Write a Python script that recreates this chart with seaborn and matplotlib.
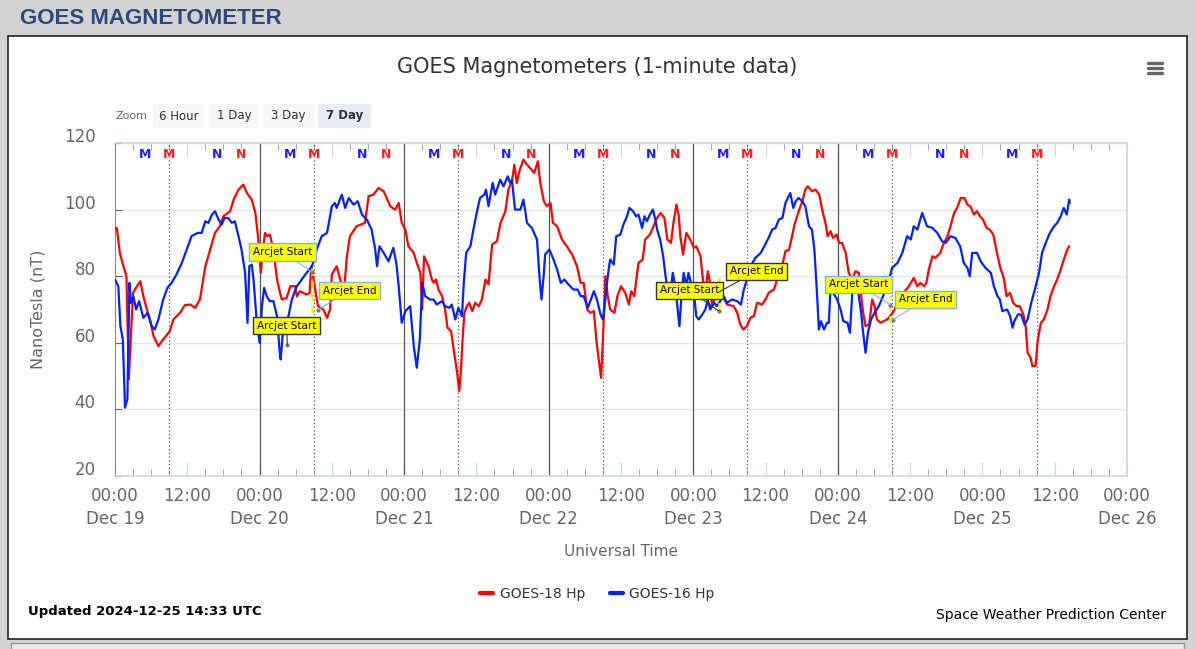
import pandas as pd
import matplotlib
matplotlib.use("Agg")
import matplotlib.pyplot as plt
import matplotlib.dates as mdates
import matplotlib.patches as patches
import matplotlib.transforms as mtransforms
import seaborn as sns

start = pd.Timestamp("2024-12-19 00:00")

# hours since Dec 19 00:00 UT and field values (nT)
goes18_hours = [0, 0.3, 0.8, 1.4, 1.9, 2.3, 2.6, 3.0, 3.3, 4.2, 4.7, 5.3, 5.8, 6.4, 7.2, 8.0, 9.1, 9.7,
                10.8, 11.6, 12.5, 13.3, 14.1, 15.0, 15.8, 16.6, 17.4, 18.0, 19.1, 19.7, 20.5, 21.3,
                21.9, 22.7, 23.3, 23.8, 24.2, 24.5, 24.9, 25.3, 25.7, 26.3, 26.9, 27.4, 27.7, 28.5,
                29.1, 29.9, 30.2, 30.7, 31.8, 32.3, 32.6, 33.7, 34.6, 35.2, 35.7, 36.0, 36.8, 37.4,
                38.0, 38.5, 39.0, 40.1, 41.5, 42.1, 42.9, 43.75, 44.6, 45.1, 45.7, 46.5, 47.1, 47.6,
                48.2, 48.7, 49.6, 50.1, 50.7, 51.0, 51.3, 52.05, 52.6, 52.9, 53.3, 53.7, 54.3, 54.8,
                55.2, 55.8, 56.3, 56.8, 57.15, 57.4, 57.7, 58.0, 58.4, 58.8, 59.3, 59.8, 60.4, 60.9,
                61.5, 62.0, 62.6, 63.4, 64.0, 64.8, 65.3, 65.9, 66.3, 66.7, 67.2, 67.8, 68.4, 68.9,
                69.6, 70.2, 70.6, 71.2, 71.7, 72.3, 72.7, 73.4, 74.2, 75.0, 75.9, 76.7, 77.3, 77.8,
                78.4, 78.9, 79.5, 79.9, 80.3, 80.7, 81.0, 81.4, 81.8, 82.2, 82.9, 83.4, 84.0, 84.7,
                85.3, 85.7, 86.2, 86.9, 87.6, 88.0, 88.8, 89.4, 90.0, 90.6, 91.2, 91.7, 92.3, 92.7,
                93.2, 93.6, 93.85, 94.3, 94.85, 95.5, 96.1, 96.5, 97.2, 97.6, 98.0, 98.4, 98.8, 99.1,
                99.5, 101.05, 101.6, 102.7, 103.3, 103.8, 104.3, 104.9, 105.5, 106.05, 106.6, 107.4,
                108.0, 108.5, 109.4, 109.9, 110.8, 111.3, 111.9, 112.4, 112.8, 113.5, 114.1, 114.6,
                115.0, 115.7, 116.3, 116.9, 117.4, 118.0, 118.3, 118.8, 119.2, 119.8, 120.2, 120.7,
                121.3, 121.8, 122.4, 122.9, 123.5, 123.8, 124.2, 124.6, 125.2, 125.7, 126.1, 126.5,
                127.1, 127.6, 128.2, 129.3, 130.1, 130.9, 131.8, 132.6, 133.2, 133.7, 134.3, 134.7,
                135.1, 135.7, 136.2, 137.0, 137.6, 138.2, 138.7, 139.3, 139.8, 140.4, 141.0, 141.5,
                142.0, 142.6, 143.1, 143.6, 144.1, 144.7, 145.2, 145.8, 146.3, 146.9, 147.6, 148.0,
                148.6, 149.1, 149.7, 150.2, 150.8, 151.2, 151.5, 152.0, 152.3, 152.8, 153.2, 153.7,
                154.2, 154.8, 155.3, 155.9, 156.4, 157.0, 157.5, 158.1, 158.4]
goes18_nt = [94, 94.5, 87, 83, 80, 49, 61, 75, 76, 78.5, 74, 70, 67, 62, 59, 61, 63.5, 67,
             69, 71.3, 71.5, 70.5, 73, 83, 88, 93, 95, 98, 99.5, 103, 106, 107.5,
             105, 103, 99, 91, 81, 87, 93, 92, 92.5, 88, 79, 75, 73, 73.5,
             77, 77, 74, 75.5, 74.5, 75, 83, 71, 70, 67.5, 70, 80.5, 83, 79,
             75, 86, 92, 95, 96, 104, 104.5, 106.5, 105.5, 103.5, 101, 100, 102, 96,
             94, 89, 87, 84, 81, 70, 86, 83, 79, 78, 79, 76, 74, 70,
             64.5, 63.5, 57, 51, 45.5, 51, 61, 69, 71, 72, 69.5, 72, 71, 73,
             79, 77.5, 89.5, 90.5, 96, 99.5, 106, 108.5, 113.5, 108, 112, 115, 113.5, 112.5,
             111, 114.5, 108, 102.5, 101, 102, 96, 95, 91, 89, 86.5, 83, 78, 78,
             70, 69, 69.5, 61, 55, 49.5, 61, 80, 74, 70, 69, 74, 77, 75,
             71.5, 75.5, 74, 84, 85, 91, 92.5, 95, 97.5, 99, 97.5, 91, 90, 96,
             101.5, 98, 92, 86.5, 93, 91, 88.5, 89, 86, 79, 74, 81.5, 78, 71,
             73, 73.5, 71.5, 71, 69, 65.5, 64, 65, 67.5, 68, 72, 71.5,
             73, 75, 76, 79, 83.5, 87.5, 88, 92, 95.5, 99.5, 102.5, 106,
             107, 105.5, 106, 104.5, 100, 95.5, 92, 93.5, 91.5, 92.5, 90, 90,
             87, 81, 79, 81.5, 81, 75, 69, 65, 65.5, 73, 71, 67,
             66, 66.5, 67, 69.5, 73, 75, 77, 79.5, 77, 78, 77, 78,
             82, 86, 85.5, 87, 90, 92, 95, 99, 100.5, 103.5, 103.5, 101.5,
             101, 98.5, 99.5, 98, 97, 94.5, 94, 92.5, 88, 83, 79, 74,
             75, 72, 71, 71, 68.5, 64.5, 57, 55.5, 53, 53, 61, 66,
             67, 70, 74, 77, 79, 82, 85, 88, 89]

goes16_hours = [0, 0.55, 0.9, 1.3, 1.66, 2.05, 2.4, 2.65, 3.05, 3.5, 4.0, 4.7, 5.4, 6.1, 6.6, 7.2, 8.0,
                8.7, 9.4, 10.2, 11.1, 11.9, 12.7, 13.7, 14.4, 15.0, 15.5, 16.1, 16.6, 17.2, 17.7,
                18.2, 18.8, 19.4, 19.9, 20.5, 21.0, 21.6, 22.0, 22.3, 22.7, 23.0, 23.5, 24.0, 24.4,
                24.75, 25.2, 25.7, 26.3, 26.9, 27.3, 27.5, 27.96, 28.8, 29.35, 30.2, 31.0, 31.8,
                32.7, 33.5, 34.3, 35.2, 36.0, 36.5, 36.8, 37.65, 38.2, 38.8, 39.6, 40.3, 41.0, 41.8,
                42.6, 43.2, 43.5, 43.9, 44.6, 45.4, 46.2, 46.7, 47.1, 47.6, 48.2, 49.0, 49.6, 50.1,
                50.6, 51.0, 51.5, 52.3, 52.9, 53.4, 54.3, 54.8, 55.5, 55.9, 56.5, 57.0, 57.6, 57.9,
                58.3, 59.0, 59.5, 60.1, 60.6, 61.3, 61.6, 62.0, 62.7, 63.1, 63.95, 64.5, 65.2, 65.6,
                65.9, 66.4, 67.3, 67.8, 68.4, 69.2, 70.05, 70.5, 70.8, 71.2, 71.4, 72.1, 72.8, 73.4,
                74.0, 74.6, 75.3, 76.1, 76.8, 77.3, 77.8, 78.5, 79.5, 80.0, 80.6, 81.0, 81.4, 81.8,
                82.2, 82.8, 83.2, 83.9, 84.4, 85.0, 85.4, 86.0, 86.5, 86.9, 87.5, 87.9, 88.3, 88.8,
                89.3, 89.7, 90.0, 90.5, 91.0, 91.4, 91.75, 92.2, 92.6, 93.0, 93.4, 93.7, 94.0, 94.4,
                94.85, 95.2, 95.6, 96.1, 96.5, 96.9, 97.5, 98.0, 98.4, 98.8, 99.5, 99.9, 101.05,
                101.6, 102.4, 103.3, 103.9, 104.4, 104.9, 105.5, 106.3, 107.2, 107.8, 108.5, 109.1,
                109.65, 110.2, 110.8, 111.3, 111.7, 112.1, 112.6, 113.0, 113.5, 114.1, 114.6, 115.2,
                115.7, 116.1, 116.5, 116.85, 117.2, 117.7, 118.2, 118.5, 118.8, 119.2, 119.9, 120.45,
                120.9, 121.6, 122.0, 122.4, 122.9, 123.3, 123.8, 124.2, 124.6, 125.0, 125.5, 126.1,
                126.8, 127.5, 128.2, 129.0, 129.9, 130.7, 131.5, 132.1, 132.6, 133.2, 134.0, 134.8,
                135.7, 136.5, 137.3, 137.9, 138.7, 139.5, 140.3, 140.9, 141.5, 141.9, 142.3, 143.1,
                143.7, 144.5, 145.4, 145.9, 146.5, 146.9, 147.3, 148.1, 148.6, 149.0, 149.3, 149.9,
                150.4, 151.0, 151.5, 152.1, 152.7, 153.4, 153.9, 154.5, 155.2, 155.9, 156.4, 157.0,
                157.5, 158.0, 158.4, 158.5]
goes16_nt = [79, 77, 65, 61, 40.5, 43, 78, 72, 74, 70, 72.5, 67.5, 69, 65, 64, 67, 73,
             76.5, 78, 80.5, 84, 88, 92, 93, 93, 96.5, 96, 98.5, 99.5, 97, 95.5,
             97.5, 97.5, 96, 96.5, 92, 88, 81, 66, 83, 83.5, 79, 67, 60, 71,
             76.5, 74, 72.5, 72.5, 68, 58, 55, 65, 68, 73, 77, 79, 81,
             83, 88, 92, 93, 101, 102, 100.5, 104.5, 100.5, 103.5, 101.5, 102.5, 98.5, 97,
             94, 88, 83, 89, 87, 84.5, 88.5, 84, 77, 66, 69.5, 71, 59, 52.5,
             61, 78, 74, 73, 73, 71.5, 72.5, 71, 70.5, 71.5, 67, 70.5, 68, 78,
             87, 89, 94, 99.5, 103.5, 104.5, 106, 101, 108, 104.5, 109, 107, 110, 108,
             109, 100, 100, 103, 96, 94.5, 91, 79, 73, 81, 86.5, 88, 85, 82,
             78, 79, 77.5, 76, 76, 74, 74, 70.5, 75.5, 73, 68.5, 67, 73, 80,
             85, 83.5, 92, 92.5, 95.5, 98, 100.5, 99.5, 98, 98.5, 94.5, 98, 96.5, 98.5,
             100, 97, 94, 91, 86, 80, 76, 75, 81, 77, 70, 65, 73, 81,
             77, 81, 78, 75, 68, 67, 68.5, 70, 73, 70, 72, 71, 74,
             72, 73, 72.5, 71.5, 76, 79, 83, 85.5, 87, 89, 91.5, 94,
             94.5, 97, 97.5, 102, 103.5, 105, 100.5, 102.5, 103.5, 102.5, 101, 95,
             94, 88, 76, 64, 66.5, 64, 66, 66, 77, 75, 73, 70,
             66.5, 66, 63, 75, 79, 76, 70, 63, 57, 63, 67, 69,
             71, 74, 77, 82.5, 84, 87, 92, 91, 95, 94, 99, 95,
             94.5, 93, 90.5, 90, 92, 91.5, 89, 84, 82.5, 80, 87, 87,
             84.5, 82.5, 81, 77, 74, 73, 69.5, 70, 68, 64.5, 66.5, 68.5,
             68.5, 65.5, 67, 72, 76, 81, 87, 90, 93, 95, 96, 98,
             100.5, 98.5, 103, 102]

# arcjet intervals (yellow dashed)
arcjet_hours = [32.7, 100.2, 128.6]
arcjet_top = [84, 81, 74.5]
arcjet_bottom = [69, 70, 66]

# annotation flags
ann_text = ["Arcjet Start", "Arcjet End", "Arcjet Start", "Arcjet Start", "Arcjet End",
            "Arcjet Start", "Arcjet End"]
ann_hours = [32.7, 33.7, 28.6, 100.2, 100.3, 128.7, 129.1]
ann_nt = [81.3, 70, 59.4, 69.6, 75.3, 71.4, 66.9]
ann_box_hours = [27.8, 38.95, 28.5, 95.4, 106.5, 123.4, 134.55]
ann_box_nt = [87.3, 75.6, 65.1, 75.75, 81.45, 77.55, 73.05]
ann_edge = ["#7cb5ec", "#7cb5ec", "#333333", "#333333", "#333333", "#7cb5ec", "#7cb5ec"]

# magnetopause / noon markers (hour of day)
marker_hours = [5, 9, 17, 21]
marker_text = ["M", "M", "N", "N"]
marker_color = ["#1f1fff", "#ff1f1f", "#1f1fff", "#ff1f1f"]

days = pd.date_range("2024-12-19", "2024-12-25", freq="D")


df = pd.concat([
    pd.DataFrame({"time": start + pd.to_timedelta(goes18_hours, unit="h"),
                  "nT": goes18_nt, "series": "GOES-18 Hp"}),
    pd.DataFrame({"time": start + pd.to_timedelta(goes16_hours, unit="h"),
                  "nT": goes16_nt, "series": "GOES-16 Hp"}),
])

sns.set_style("white")
plt.rcParams["font.family"] = ["DejaVu Sans"]

fig = plt.figure(figsize=(11.95, 6.49), dpi=100, facecolor="#d3d3d3")

# white panel and bottom panel
fig.patches.append(patches.Rectangle((8 / 1195, 1 - 639 / 649), 1179 / 1195, 603 / 649,
                                     transform=fig.transFigure, facecolor="white",
                                     edgecolor="#222222", linewidth=1.2, zorder=-5))
fig.patches.append(patches.Rectangle((11 / 1195, 1 - 660 / 649), 1173 / 1195, 17 / 649,
                                     transform=fig.transFigure, facecolor="#ececec",
                                     edgecolor="#999999", linewidth=1, zorder=-5))

ax = fig.add_axes([115 / 1195, 1 - 476 / 649, 1012 / 1195, 333 / 649])
ax.set_facecolor("white")

sns.lineplot(data=df, x="time", y="nT", hue="series",
             palette={"GOES-18 Hp": "#ff0000", "GOES-16 Hp": "#0022ff"},
             hue_order=["GOES-18 Hp", "GOES-16 Hp"], linewidth=1.6, ax=ax, zorder=3)

ax.set_xlim(pd.Timestamp("2024-12-19"), pd.Timestamp("2024-12-26"))
ax.set_ylim(20, 120)
ax.set_yticks([20, 40, 60, 80, 100, 120])
ax.grid(axis="y", color="#e6e6e6", linewidth=1)
ax.grid(axis="x", visible=False)

for d in days:
    if d != days[0] and d != days[-1]:
        ax.axvline(d, color="#555555", linewidth=0.9, zorder=1)
    ax.axvline(d + pd.Timedelta(hours=9), color="#555555", linewidth=0.9,
               linestyle=(0, (1, 2)), zorder=1)

trans = mtransforms.blended_transform_factory(ax.transData, ax.transAxes)
for d in days:
    for h, t, c in zip(marker_hours, marker_text, marker_color):
        if d == days[-1] and t == "N":
            continue
        ax.text(d + pd.Timedelta(hours=h), 0.964, t, transform=trans, ha="center", va="center",
                color=c, fontsize=9, fontweight="bold", zorder=4)

for h, top, bot in zip(arcjet_hours, arcjet_top, arcjet_bottom):
    ax.vlines(start + pd.Timedelta(hours=h), bot, top, colors="#f5f000", linewidth=1.8,
              linestyles=(0, (3, 2)), zorder=5)

for t, h, v, bh, bv, ec in zip(ann_text, ann_hours, ann_nt, ann_box_hours, ann_box_nt, ann_edge):
    ax.plot(start + pd.Timedelta(hours=h), v, "o", color="#777777", markersize=2, zorder=6)
    ax.annotate(t, xy=(start + pd.Timedelta(hours=h), v),
                xytext=(start + pd.Timedelta(hours=bh), bv),
                ha="center", va="center", fontsize=7.5, color="black", zorder=7,
                bbox=dict(boxstyle="square,pad=0.35", facecolor="#ffff00", edgecolor=ec, linewidth=1),
                arrowprops=dict(arrowstyle="-", color=ec, linewidth=0.8, shrinkA=0, shrinkB=0))

# axes styling
ax.xaxis.set_major_locator(mdates.HourLocator(byhour=[0, 12]))
ax.xaxis.set_minor_locator(mdates.HourLocator(interval=3))


def time_label(x, pos):
    d = mdates.num2date(x)
    if d.hour == 0:
        return d.strftime("%H:%M\n%b %d")
    return d.strftime("%H:%M")


ax.xaxis.set_major_formatter(plt.FuncFormatter(time_label))
ax.tick_params(axis="x", which="major", direction="in", length=10, color="#ccd6eb",
               top=True, bottom=True, labelsize=12, labelcolor="#666666", pad=8)
ax.tick_params(axis="x", which="minor", direction="in", length=5, color="#999999",
               top=True, bottom=True)
ax.tick_params(axis="y", direction="in", length=5, color="#666666", left=True,
               labelsize=12, labelcolor="#666666", pad=14)
for lab in ax.get_xticklabels():
    lab.set_linespacing(1.35)
for lab in ax.get_yticklabels():
    lab.set_transform(lab.get_transform() +
                      mtransforms.ScaledTranslation(0, 0.08, fig.dpi_scale_trans))

for side in ["top", "right", "bottom"]:
    ax.spines[side].set_color("#ccd6eb")
    ax.spines[side].set_linewidth(1.2)
ax.spines["left"].set_color("#888888")

ax.set_xlabel("Universal Time", fontsize=11, color="#666666")
ax.set_ylabel("NanoTesla (nT)", fontsize=11.5, color="#666666")
ax.xaxis.set_label_coords(0.5, -0.205)
ax.yaxis.set_label_coords(-0.069, 0.5)

sns.move_legend(ax, "center", bbox_to_anchor=(0.5, 1 - 594 / 649), bbox_transform=fig.transFigure,
                ncol=2, frameon=False, title=None, fontsize=10, handlelength=0.9,
                columnspacing=1.8, handletextpad=0.5)
for line in ax.get_legend().get_lines():
    line.set_linewidth(3)
for txt in ax.get_legend().get_texts():
    txt.set_color("#333333")

# header and texts
fig.text(20 / 1195, 1 - 18 / 649, "GOES MAGNETOMETER", fontsize=16, fontweight="bold",
         color="#2a4a7f", va="center", family="Liberation Sans")
fig.text(597 / 1195, 1 - 67 / 649, "GOES Magnetometers (1-minute data)", fontsize=15,
         color="#333333", ha="center", va="center")
fig.text(28 / 1195, 1 - 612 / 649, "Updated 2024-12-25 14:33 UTC", fontsize=9.5,
         fontweight="bold", color="black", va="center")
fig.text(1166 / 1195, 1 - 615 / 649, "Space Weather Prediction Center", fontsize=10,
         color="black", ha="right", va="center")

# zoom buttons
fig.text(132 / 1195, 1 - 116 / 649, "Zoom", fontsize=8, color="#666666", ha="center", va="center")
btn_labels = ["6 Hour", "1 Day", "3 Day", "7 Day"]
btn_left = [153, 210, 263, 318]
btn_right = [204, 258, 313, 371]
for lab, l, r in zip(btn_labels, btn_left, btn_right):
    active = lab == "7 Day"
    fig.patches.append(patches.FancyBboxPatch((l / 1195, 1 - 128 / 649), (r - l) / 1195, 24 / 649,
                                              boxstyle="round,pad=0,rounding_size=0.002",
                                              transform=fig.transFigure,
                                              facecolor="#e6ebf5" if active else "#f7f7f7",
                                              edgecolor="none", zorder=1))
    fig.text((l + r) / 2 / 1195, 1 - 116 / 649, lab, fontsize=8.5, color="#333333",
             ha="center", va="center", fontweight="bold" if active else "normal")

# hamburger menu icon
for yy in [63, 68, 73]:
    fig.lines.append(plt.Line2D([1148 / 1195, 1162 / 1195], [1 - yy / 649, 1 - yy / 649],
                                transform=fig.transFigure, color="#666666", linewidth=2.4))

fig.savefig("out.png", dpi=100, facecolor=fig.get_facecolor())
